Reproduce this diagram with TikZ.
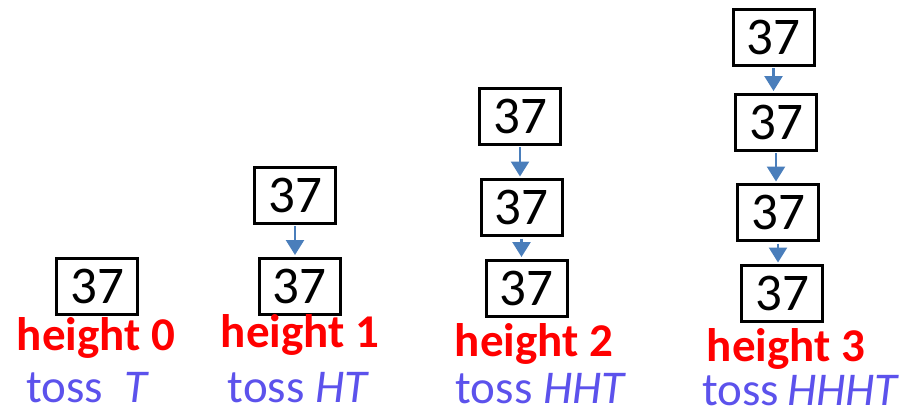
\documentclass[tikz,border=0pt]{standalone}
\usepackage{fontspec}
\setmainfont{Carlito}
\usetikzlibrary{arrows.meta}
\definecolor{linkblue}{RGB}{74,126,187}
\definecolor{tossblue}{RGB}{92,82,236}
\begin{document}
\begin{tikzpicture}[x=1pt,y=-1pt,
  keybox/.style={draw=black, line width=3pt, fill=white, inner sep=0pt,
    minimum width=81pt, minimum height=56pt,
    font=\fontsize{53}{53}\selectfont},
  link/.style={draw=linkblue, line width=2.5pt,
    -{Triangle[length=15pt,width=18pt]}, shorten <=1.5pt, shorten >=1.5pt},
  heightlabel/.style={anchor=base, text=red, inner sep=0pt,
    font=\fontsize{47}{47}\selectfont\bfseries},
  tosslabel/.style={anchor=base, text=tossblue, inner sep=0pt,
    font=\fontsize{47}{47}\selectfont}]
  \useasboundingbox (0,0) rectangle (907,413);

  % column of height 0
  \node[keybox] (a0) at (97,286) {37};
  \node[heightlabel] (ha) at (96,350) {height 0};
  \node[tosslabel] (ta) at (87.5,402) {toss\hspace{0.45em}\textit{T}};

  % column of height 1
  \node[keybox] (b1) at (295,195) {37};
  \node[keybox] (b0) at (299.5,286) {37};
  \draw[link] (b1.south) -- (b1.south |- b0.north);
  \node[heightlabel] (hb) at (300,347) {height 1};
  \node[tosslabel] (tb) at (298.5,402) {toss \textit{HT}};

  % column of height 2
  \node[keybox] (c2) at (520,116) {37};
  \node[keybox] (c1) at (521.5,207.5) {37};
  \node[keybox] (c0) at (526.5,288) {37};
  \draw[link] (c2.south) -- (c2.south |- c1.north);
  \draw[link] (c1.south) -- (c1.south |- c0.north);
  \node[heightlabel] (hc) at (534,356) {height 2};
  \node[tosslabel] (tc) at (541,403) {toss \textit{HHT}};

  % column of height 3
  \node[keybox] (d3) at (773.5,37) {37};
  \node[keybox] (d2) at (776,122) {37};
  \node[keybox] (d1) at (778,212.5) {37};
  \node[keybox] (d0) at (782,293.5) {37};
  \draw[link] (d3.south) -- (d3.south |- d2.north);
  \draw[link] (d2.south) -- (d2.south |- d1.north);
  \draw[link] (d1.south) -- (d1.south |- d0.north);
  \node[heightlabel] (hd) at (786,361) {height 3};
  \node[tosslabel] (td) at (801,405) {toss\,\textit{HHHT}};
\end{tikzpicture}
\end{document}
